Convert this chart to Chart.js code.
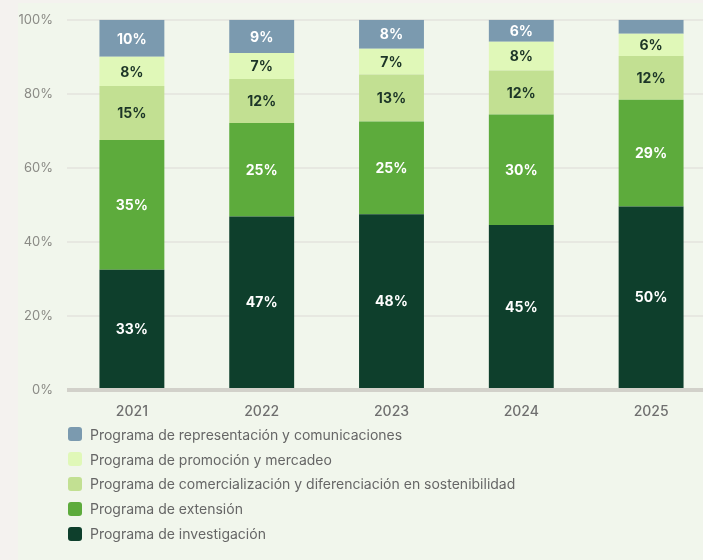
<!DOCTYPE html>
<html>
<head>
<meta charset="utf-8">
<script src="https://cdn.jsdelivr.net/npm/chart.js@4"></script>
<style>
  html, body { margin: 0; padding: 0; background: #f4f2ef; overflow: hidden; width: 703px; height: 560px; }
  #card { position: absolute; left: 18px; top: 3px; width: 720px; height: 560px; background: #f1f6ec; }
  #wrap { position: absolute; left: 0; top: -2px; width: 716px; height: 429px; }
  #leyenda { position: absolute; left: 68px; top: 422px; font-family: Inter, sans-serif; font-size: 14px; color: #666; }
  .item { height: 24.8px; display: flex; align-items: center; }
  .caja { width: 14px; height: 14px; border-radius: 3px; margin-right: 8px; }
</style>
</head>
<body>
<div id="card"></div>
<div id="wrap"><canvas id="grafico"></canvas></div>
<div id="leyenda"></div>

<script>
const anios = ["2021", "2022", "2023", "2024", "2025"];

const investigacion = [32.5, 46.9, 47.5, 44.6, 49.6];
const extension = [35.0, 25.2, 25.0, 29.8, 28.8];
const comercializacion = [14.6, 11.9, 12.7, 11.9, 11.8];
const promocion = [7.9, 7.0, 7.0, 7.8, 6.0];
const representacion = [10.0, 9.0, 7.8, 5.9, 3.8];

const ticksY = [0, 20, 40, 60, 80, 100];

const series = [
    { label: "Programa de investigación", data: investigacion, color: "#0e3f2c", texto: "#ffffff" },
    { label: "Programa de extensión", data: extension, color: "#5dab3c", texto: "#ffffff" },
    { label: "Programa de comercialización y diferenciación en sostenibilidad", data: comercializacion, color: "#c2e092", texto: "#1c3527" },
    { label: "Programa de promoción y mercadeo", data: promocion, color: "#e0f8b8", texto: "#1c3527" },
    { label: "Programa de representación y comunicaciones", data: representacion, color: "#7b9aaf", texto: "#ffffff" }
];

// etiquetas de porcentaje dentro de cada segmento
const etiquetas = {
    id: "etiquetas",
    afterDatasetsDraw(chart) {
        const ctx = chart.ctx;
        ctx.save();
        ctx.font = "bold 14px Inter, sans-serif";
        ctx.textAlign = "center";
        ctx.textBaseline = "middle";
        chart.data.datasets.forEach((ds, i) => {
            const meta = chart.getDatasetMeta(i);
            meta.data.forEach((bar, j) => {
                const v = ds.data[j];
                if (v < 5) return;
                ctx.fillStyle = series[i].texto;
                ctx.fillText(Math.round(v) + "%", bar.x, (bar.y + bar.base) / 2 + 1);
            });
        });
        ctx.restore();
    }
};

new Chart(document.getElementById("grafico"), {
    type: "bar",
    data: {
        labels: anios,
        datasets: series.map(s => ({
            label: s.label,
            data: s.data,
            backgroundColor: s.color,
            borderWidth: 0,
            barPercentage: 0.5,
            categoryPercentage: 1
        }))
    },
    options: {
        responsive: true,
        maintainAspectRatio: false,
        animation: false,
        layout: { padding: { top: 14, left: 0, right: 0, bottom: 0 } },
        plugins: {
            legend: { display: false },
            tooltip: { enabled: false }
        },
        scales: {
            x: {
                stacked: true,
                grid: { display: false },
                border: { display: false },
                ticks: { color: "#6f6f6f", font: { family: "Inter", size: 14, weight: "500" }, padding: 5 },
                afterFit: s => { s.height = 37; }
            },
            y: {
                stacked: true,
                min: 0,
                max: 100,
                afterBuildTicks: s => { s.ticks = ticksY.map(v => ({ value: v })); },
                ticks: { color: "#8a8a85", font: { family: "Inter", size: 13 }, padding: 14, callback: v => v + "%" },
                grid: {
                    drawTicks: false,
                    color: c => (c.tick.value === 0 ? "#d2d1ca" : "#e7e8e1"),
                    lineWidth: c => (c.tick.value === 0 ? 4 : 2)
                },
                border: { display: false },
                afterFit: s => { s.width = 67; }
            }
        }
    },
    plugins: [etiquetas]
});

const leyenda = document.getElementById("leyenda");
series.slice().reverse().forEach(s => {
    const fila = document.createElement("div");
    fila.className = "item";
    fila.innerHTML = `<span class="caja" style="background:${s.color}"></span><span>${s.label}</span>`;
    leyenda.appendChild(fila);
});
</script>
</body>
</html>
